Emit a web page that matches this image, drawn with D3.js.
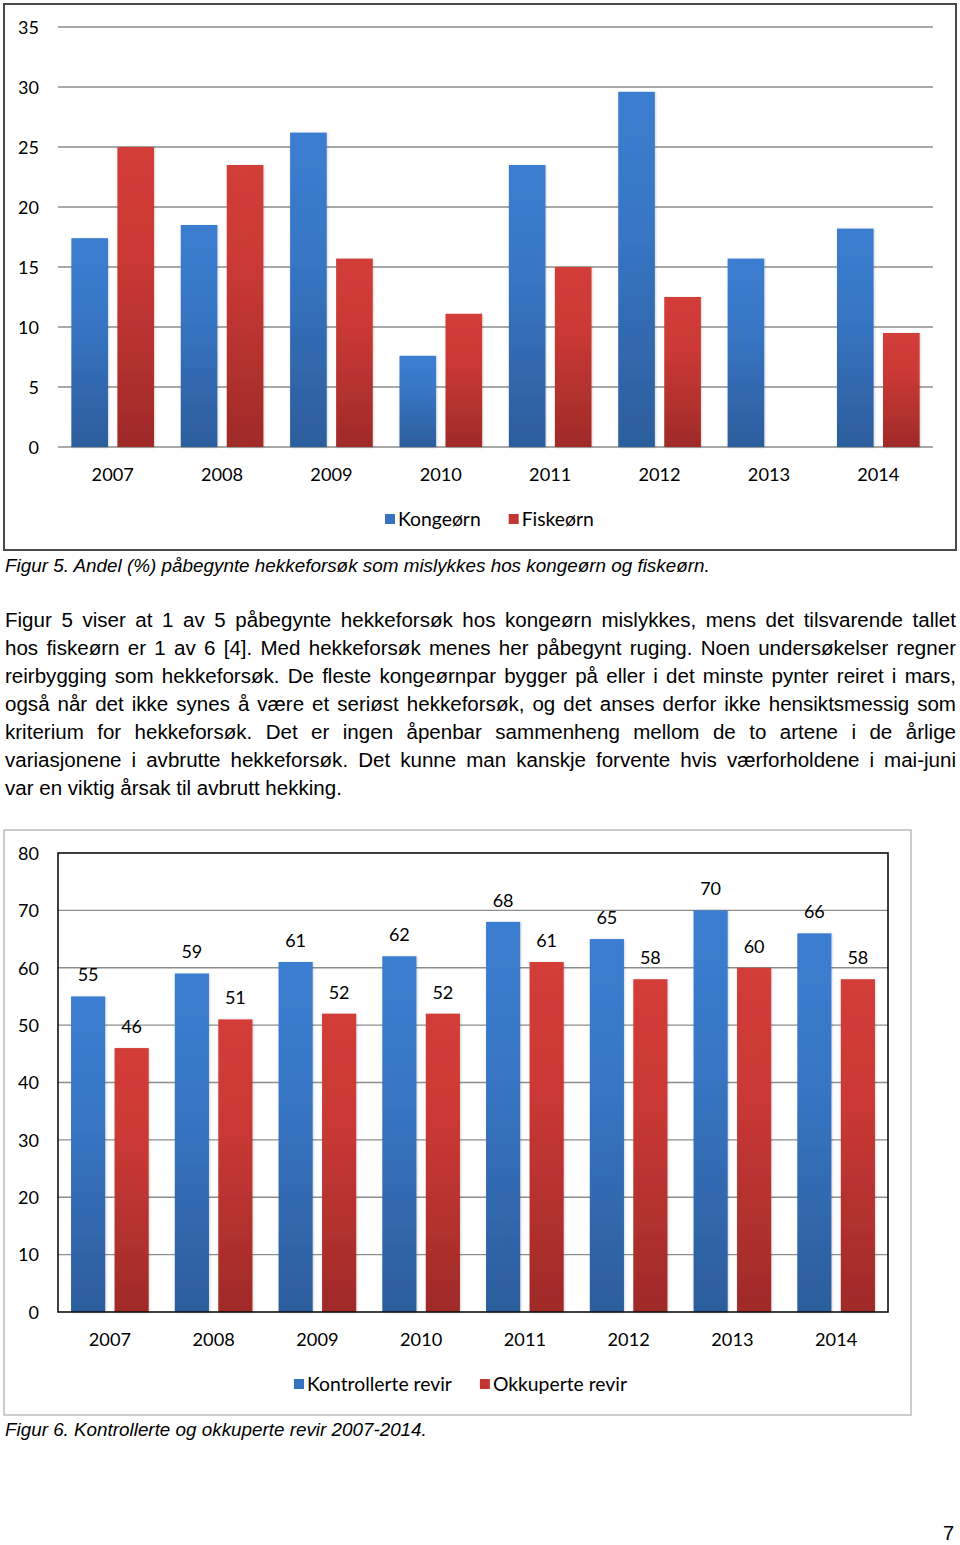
<!DOCTYPE html>
<html>
<head>
<meta charset="utf-8">
<script src="https://cdn.jsdelivr.net/npm/d3@7/dist/d3.min.js"></script>
<style>
  html, body { margin: 0; padding: 0; background: #fff; }
  svg { display: block; }
</style>
</head>
<body>
<svg id="page" width="960" height="1545"></svg>
<script>
// ---------------- DATA ----------------
const years = ["2007", "2008", "2009", "2010", "2011", "2012", "2013", "2014"];

// Figur 5: andel (%) mislykkede hekkeforsøk
const kongeorn = [17.4, 18.5, 26.2, 7.6, 23.5, 29.6, 15.7, 18.2];
const fiskeorn = [25.0, 23.5, 15.7, 11.1, 15.0, 12.5, null, 9.5];
const fig5Ticks = [0, 5, 10, 15, 20, 25, 30, 35];
const fig5Series = ["Kongeørn", "Fiskeørn"];

// Figur 6: kontrollerte og okkuperte revir
const kontrollerte = [55, 59, 61, 62, 68, 65, 70, 66];
const okkuperte = [46, 51, 52, 52, 61, 58, 60, 58];
const fig6Ticks = [0, 10, 20, 30, 40, 50, 60, 70, 80];
const fig6Series = ["Kontrollerte revir", "Okkuperte revir"];

const caption5 = "Figur 5. Andel (%) påbegynte hekkeforsøk som mislykkes hos kongeørn og fiskeørn.";
const caption6 = "Figur 6. Kontrollerte og okkuperte revir 2007-2014.";
const paragraph = [
  "Figur 5 viser at 1 av 5 påbegynte hekkeforsøk hos kongeørn mislykkes, mens det tilsvarende tallet",
  "hos fiskeørn er 1 av 6 [4]. Med hekkeforsøk menes her påbegynt ruging. Noen undersøkelser regner",
  "reirbygging som hekkeforsøk. De fleste kongeørnpar bygger på eller i det minste pynter reiret i mars,",
  "også når det ikke synes å være et seriøst hekkeforsøk, og det anses derfor ikke hensiktsmessig som",
  "kriterium for hekkeforsøk. Det er ingen åpenbar sammenheng mellom de to artene i de årlige",
  "variasjonene i avbrutte hekkeforsøk. Det kunne man kanskje forvente hvis værforholdene i mai-juni",
  "var en viktig årsak til avbrutt hekking."
];
const pageNumber = "7";

// ---------------- STYLE ----------------
const chartFont = "Lato, 'Open Sans', sans-serif";
const bodyFont = "'Liberation Sans', Arial, sans-serif";
const textColor = "#000";
const gridColor = "#8d8d8d";

const svg = d3.select("#page");

// gradients
const defs = svg.append("defs");
function grad(id, top, mid, bottom) {
  const g = defs.append("linearGradient").attr("id", id)
    .attr("x1", 0).attr("y1", 0).attr("x2", 0).attr("y2", 1);
  g.append("stop").attr("offset", "0%").attr("stop-color", top);
  g.append("stop").attr("offset", "35%").attr("stop-color", mid);
  g.append("stop").attr("offset", "100%").attr("stop-color", bottom);
}
grad("gBlue", "#3b7dd0", "#3877c6", "#2c5d9c");
grad("gRed", "#d23c38", "#cb3935", "#9f2a28");
const shadow = defs.append("filter").attr("id", "sh").attr("x", "-20%").attr("y", "-5%").attr("width", "140%").attr("height", "110%");
shadow.append("feDropShadow").attr("dx", 0.8).attr("dy", 0.5).attr("stdDeviation", 1.2)
  .attr("flood-color", "#000").attr("flood-opacity", 0.18);
const fills = ["url(#gBlue)", "url(#gRed)"];
const legendFills = ["#3672c0", "#c23734"];

function fitWidth(sel, target) {
  const w = sel.node().getComputedTextLength();
  const fs = parseFloat(sel.attr("font-size"));
  sel.attr("font-size", fs * target / w);
  return fs * target / w;
}

// legend font size so that "Kontrollerte revir" spans ~145px (as in the reference)
const legendFontSize = (function () {
  const p = svg.append("text").attr("font-family", chartFont).attr("font-size", 18).text(fig6Series[0]);
  const fs = fitWidth(p, 145);
  p.remove();
  return fs;
})();

function drawLegend(g, series, startX, cy) {
  let lx = startX;
  series.forEach((s, i) => {
    g.append("rect").attr("x", lx).attr("y", cy - 5).attr("width", 10).attr("height", 10)
      .attr("fill", legendFills[i]);
    const t = g.append("text").attr("x", lx + 13).attr("y", cy).attr("dy", "0.35em")
      .attr("font-family", chartFont).attr("font-size", legendFontSize).attr("fill", textColor).text(s);
    lx = lx + 13 + t.node().getComputedTextLength() + 28;
  });
}

// ---------------- FIGUR 5 ----------------
(function () {
  const g = svg.append("g");
  g.append("rect").attr("x", 4).attr("y", 4).attr("width", 952).attr("height", 546)
    .attr("fill", "#fff").attr("stroke", "#4a4a4a").attr("stroke-width", 2);

  const x = d3.scaleBand().domain(years).range([58, 933]).padding(0);
  const xs = d3.scaleBand().domain(fig5Series).range([0, x.bandwidth()])
    .paddingInner(0.204).paddingOuter(0.29);
  const y = d3.scaleLinear().domain([0, 35]).range([447, 27]);

  // gridlines
  g.append("g").selectAll("line").data(fig5Ticks).join("line")
    .attr("x1", 58).attr("x2", 933)
    .attr("y1", d => y(d)).attr("y2", d => y(d))
    .attr("stroke", gridColor).attr("stroke-width", 1.5);

  // y labels
  const yAxis = d3.axisLeft(y).tickValues(fig5Ticks).tickSize(0).tickPadding(0);
  const ya = g.append("g").attr("transform", "translate(39,0)").call(yAxis);
  ya.select(".domain").remove();
  ya.selectAll("text").attr("font-family", chartFont).attr("font-size", 18)
    .attr("fill", textColor).attr("dy", "0.35em");

  // x labels
  const xAxis = d3.axisBottom(x).tickSize(0).tickPadding(0);
  const xa = g.append("g").attr("transform", "translate(0,475)").call(xAxis);
  xa.select(".domain").remove();
  xa.selectAll("text").attr("font-family", chartFont).attr("font-size", 18.2)
    .attr("fill", textColor).attr("dy", "0.35em");

  // bars
  const seriesVals = [kongeorn, fiskeorn];
  seriesVals.forEach((vals, si) => {
    g.append("g").selectAll("rect")
      .data(years.map((yr, i) => ({ yr, v: vals[i] })).filter(d => d.v != null && d.v > 0))
      .join("rect")
      .attr("x", d => x(d.yr) + xs(fig5Series[si]))
      .attr("width", xs.bandwidth())
      .attr("y", d => y(d.v))
      .attr("height", d => y(0) - y(d.v))
      .attr("fill", fills[si])
      .attr("filter", "url(#sh)");
  });

  drawLegend(g.append("g"), fig5Series, 385, 519);

  // caption
  const c = svg.append("text").attr("x", 5).attr("y", 572)
    .attr("font-family", bodyFont).attr("font-style", "italic").attr("font-size", 18)
    .attr("fill", textColor).text(caption5);
  fitWidth(c, 705);
})();

// ---------------- PARAGRAPH ----------------
(function () {
  const left = 5, right = 956, base = 627, lh = 28;
  const probe = svg.append("text").attr("font-family", bodyFont).attr("font-size", 20)
    .text(paragraph[paragraph.length - 1]);
  const fs = fitWidth(probe, 337);
  probe.remove();

  paragraph.forEach((line, li) => {
    const t = svg.append("text").attr("y", base + li * lh)
      .attr("font-family", bodyFont).attr("font-size", fs).attr("fill", textColor);
    if (li === paragraph.length - 1) {
      t.attr("x", left).text(line);
      return;
    }
    const words = line.split(" ");
    const widths = words.map(w => {
      const m = svg.append("text").attr("font-family", bodyFont).attr("font-size", fs).text(w);
      const ww = m.node().getComputedTextLength();
      m.remove();
      return ww;
    });
    const total = d3.sum(widths);
    const gap = (right - left - total) / (words.length - 1);
    let cx = left;
    words.forEach((w, i) => {
      t.append("tspan").attr("x", cx).text(w);
      cx += widths[i] + gap;
    });
  });
})();

// ---------------- FIGUR 6 ----------------
(function () {
  const g = svg.append("g");
  g.append("rect").attr("x", 4).attr("y", 830).attr("width", 907).attr("height", 585)
    .attr("fill", "#fff").attr("stroke", "#bdbdbd").attr("stroke-width", 1.5);

  const x = d3.scaleBand().domain(years).range([58, 888]).padding(0);
  const xs = d3.scaleBand().domain(fig6Series).range([0, x.bandwidth()])
    .paddingInner(0.215).paddingOuter(0.30);
  const y = d3.scaleLinear().domain([0, 80]).range([1312, 853]);

  // gridlines (inner)
  g.append("g").selectAll("line").data(fig6Ticks.filter(d => d > 0 && d < 80)).join("line")
    .attr("x1", 58).attr("x2", 888)
    .attr("y1", d => y(d)).attr("y2", d => y(d))
    .attr("stroke", gridColor).attr("stroke-width", 1.3);

  // y labels
  const yAxis = d3.axisLeft(y).tickValues(fig6Ticks).tickSize(0).tickPadding(0);
  const ya = g.append("g").attr("transform", "translate(39,0)").call(yAxis);
  ya.select(".domain").remove();
  ya.selectAll("text").attr("font-family", chartFont).attr("font-size", 18)
    .attr("fill", textColor).attr("dy", "0.35em");

  // x labels
  const xAxis = d3.axisBottom(x).tickSize(0).tickPadding(0);
  const xa = g.append("g").attr("transform", "translate(0,1340)").call(xAxis);
  xa.select(".domain").remove();
  xa.selectAll("text").attr("font-family", chartFont).attr("font-size", 18.2)
    .attr("fill", textColor).attr("dy", "0.35em");

  // bars + labels
  const seriesVals = [kontrollerte, okkuperte];
  seriesVals.forEach((vals, si) => {
    const data = years.map((yr, i) => ({ yr, v: vals[i] }));
    g.append("g").selectAll("rect").data(data).join("rect")
      .attr("x", d => x(d.yr) + xs(fig6Series[si]))
      .attr("width", xs.bandwidth())
      .attr("y", d => y(d.v))
      .attr("height", d => y(0) - y(d.v))
      .attr("fill", fills[si])
      .attr("filter", "url(#sh)");
    g.append("g").selectAll("text").data(data).join("text")
      .attr("x", d => x(d.yr) + xs(fig6Series[si]) + xs.bandwidth() / 2)
      .attr("y", d => y(d.v) - 15)
      .attr("text-anchor", "middle")
      .attr("font-family", chartFont).attr("font-size", 18).attr("fill", textColor)
      .text(d => d.v);
  });

  // plot area border
  g.append("rect").attr("x", 58).attr("y", 853).attr("width", 830).attr("height", 459)
    .attr("fill", "none").attr("stroke", "#111").attr("stroke-width", 1.6);

  drawLegend(g.append("g"), fig6Series, 294, 1384);

  const c = svg.append("text").attr("x", 5).attr("y", 1436)
    .attr("font-family", bodyFont).attr("font-style", "italic").attr("font-size", 18)
    .attr("fill", textColor).text(caption6);
  fitWidth(c, 422);
})();

// page number
svg.append("text").attr("x", 954).attr("y", 1540).attr("text-anchor", "end")
  .attr("font-family", bodyFont).attr("font-size", 20).attr("fill", textColor).text(pageNumber);
</script>
</body>
</html>
